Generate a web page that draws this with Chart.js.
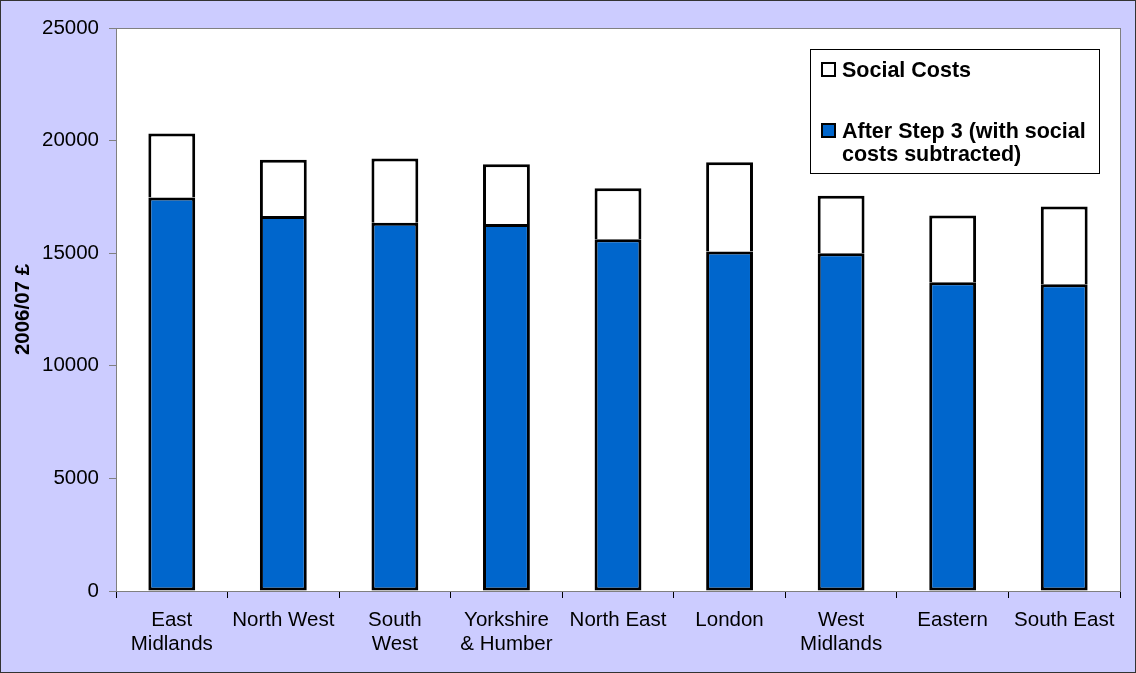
<!DOCTYPE html>
<html>
<head>
<meta charset="utf-8">
<script src="https://cdn.jsdelivr.net/npm/chart.js@4.4.0/dist/chart.umd.min.js"></script>
<style>
  html, body { margin: 0; padding: 0; background: #CCCCFF; }
  #wrap { width: 1136px; height: 673px; position: relative; }
  canvas { display: block; }
</style>
</head>
<body>
<div id="wrap"><canvas id="c" width="1136" height="673"></canvas></div>
<script>
const categories = [["East", "Midlands"], "North West", ["South", "West"], ["Yorkshire", "& Humber"], "North East", "London", ["West", "Midlands"], "Eastern", "South East"];
const totalValues = [20320, 19150, 19200, 18950, 17880, 19040, 17550, 16670, 17070];
const afterStep3Values = [17470, 16650, 16350, 16300, 15620, 15070, 15000, 13710, 13620];
const socialCostValues = totalValues.map((t, i) => t - afterStep3Values[i]);
const yTicks = [0, 5000, 10000, 15000, 20000, 25000];
const seriesNames = ["Social Costs", ["After Step 3 (with social", "costs subtracted)"]];

const FONT = "'Liberation Sans', Arial, sans-serif";

const bgPlugin = {
  id: 'bg',
  beforeDraw(chart) {
    const { ctx, chartArea: a } = chart;
    ctx.save();
    ctx.fillStyle = '#CCCCFF';
    ctx.fillRect(0, 0, chart.width, chart.height);
    ctx.strokeStyle = '#333333';
    ctx.lineWidth = 1;
    ctx.strokeRect(0.5, 0.5, chart.width - 1, chart.height - 1);
    ctx.fillStyle = '#FFFFFF';
    ctx.fillRect(a.left, a.top, a.right - a.left, a.bottom - a.top);
    ctx.strokeStyle = '#808080';
    ctx.strokeRect(Math.round(a.left) + 0.5, Math.round(a.top) + 0.5, Math.round(a.right - a.left), Math.round(a.bottom - a.top));
    ctx.restore();
  }
};

const legendPlugin = {
  id: 'boxLegend',
  afterDraw(chart) {
    const { ctx } = chart;
    ctx.save();
    const x0 = 810, y0 = 49, w = 289, h = 124;
    ctx.fillStyle = '#FFFFFF';
    ctx.fillRect(x0, y0, w, h);
    ctx.strokeStyle = '#000000';
    ctx.lineWidth = 1;
    ctx.strokeRect(x0 + 0.5, y0 + 0.5, w, h);
    const items = [
      { fill: '#FFFFFF', y: 62, lines: [seriesNames[0]] },
      { fill: '#0066CC', y: 123, lines: seriesNames[1] }
    ];
    ctx.font = "bold 21.5px " + FONT;
    ctx.textBaseline = 'alphabetic';
    items.forEach(it => {
      ctx.fillStyle = it.fill;
      ctx.fillRect(821, it.y, 15, 15);
      ctx.strokeStyle = '#000';
      ctx.lineWidth = 2;
      ctx.strokeRect(822, it.y + 1, 13, 13);
      ctx.fillStyle = '#000';
      it.lines.forEach((ln, k) => {
        ctx.fillText(ln, 842, it.y + 15 + k * 23);
      });
    });
    ctx.restore();
  }
};

new Chart(document.getElementById('c'), {
  type: 'bar',
  data: {
    labels: categories,
    datasets: [
      {
        label: 'After Step 3 (with social costs subtracted)',
        data: afterStep3Values,
        backgroundColor: '#0066CC',
        borderColor: '#000000',
        borderWidth: 3,
        borderSkipped: false,
        barPercentage: 0.42,
        categoryPercentage: 1.0
      },
      {
        label: 'Social Costs',
        data: socialCostValues,
        backgroundColor: '#FFFFFF',
        borderColor: '#000000',
        borderWidth: 3,
        borderSkipped: 'bottom',
        barPercentage: 0.42,
        categoryPercentage: 1.0
      }
    ]
  },
  options: {
    responsive: false,
    animation: false,
    devicePixelRatio: 1,
    layout: { padding: { top: 28, right: 16, left: 0, bottom: 0 } },
    plugins: {
      legend: { display: false },
      tooltip: { enabled: false }
    },
    scales: {
      x: {
        stacked: true,
        grid: { offset: true, drawOnChartArea: false, drawTicks: true, tickLength: 7, color: '#000000' },
        border: { display: true, color: '#808080', width: 1 },
        ticks: { color: '#000000', font: { family: FONT, size: 20.5, lineHeight: 1.15 }, padding: 11, maxRotation: 0, autoSkip: false },
        afterFit(s) { s.height = 82; }
      },
      y: {
        stacked: true,
        min: 0, max: 25000,
        afterBuildTicks(s) { s.ticks = yTicks.map(v => ({ value: v })); },
        grid: { drawOnChartArea: false, drawTicks: true, tickLength: 7, color: '#808080' },
        border: { display: true, color: '#808080', width: 1 },
        ticks: { color: '#000000', font: { family: FONT, size: 20.5 }, padding: 10, callback: v => String(v) },
        title: { display: true, text: '2006/07 £', color: '#000000', font: { family: FONT, size: 20.5, weight: 'bold' }, padding: { top: 11, bottom: 0 } },
        afterFit(s) { s.width = 116; }
      }
    }
  },
  plugins: [bgPlugin, legendPlugin]
});
</script>
</body>
</html>
